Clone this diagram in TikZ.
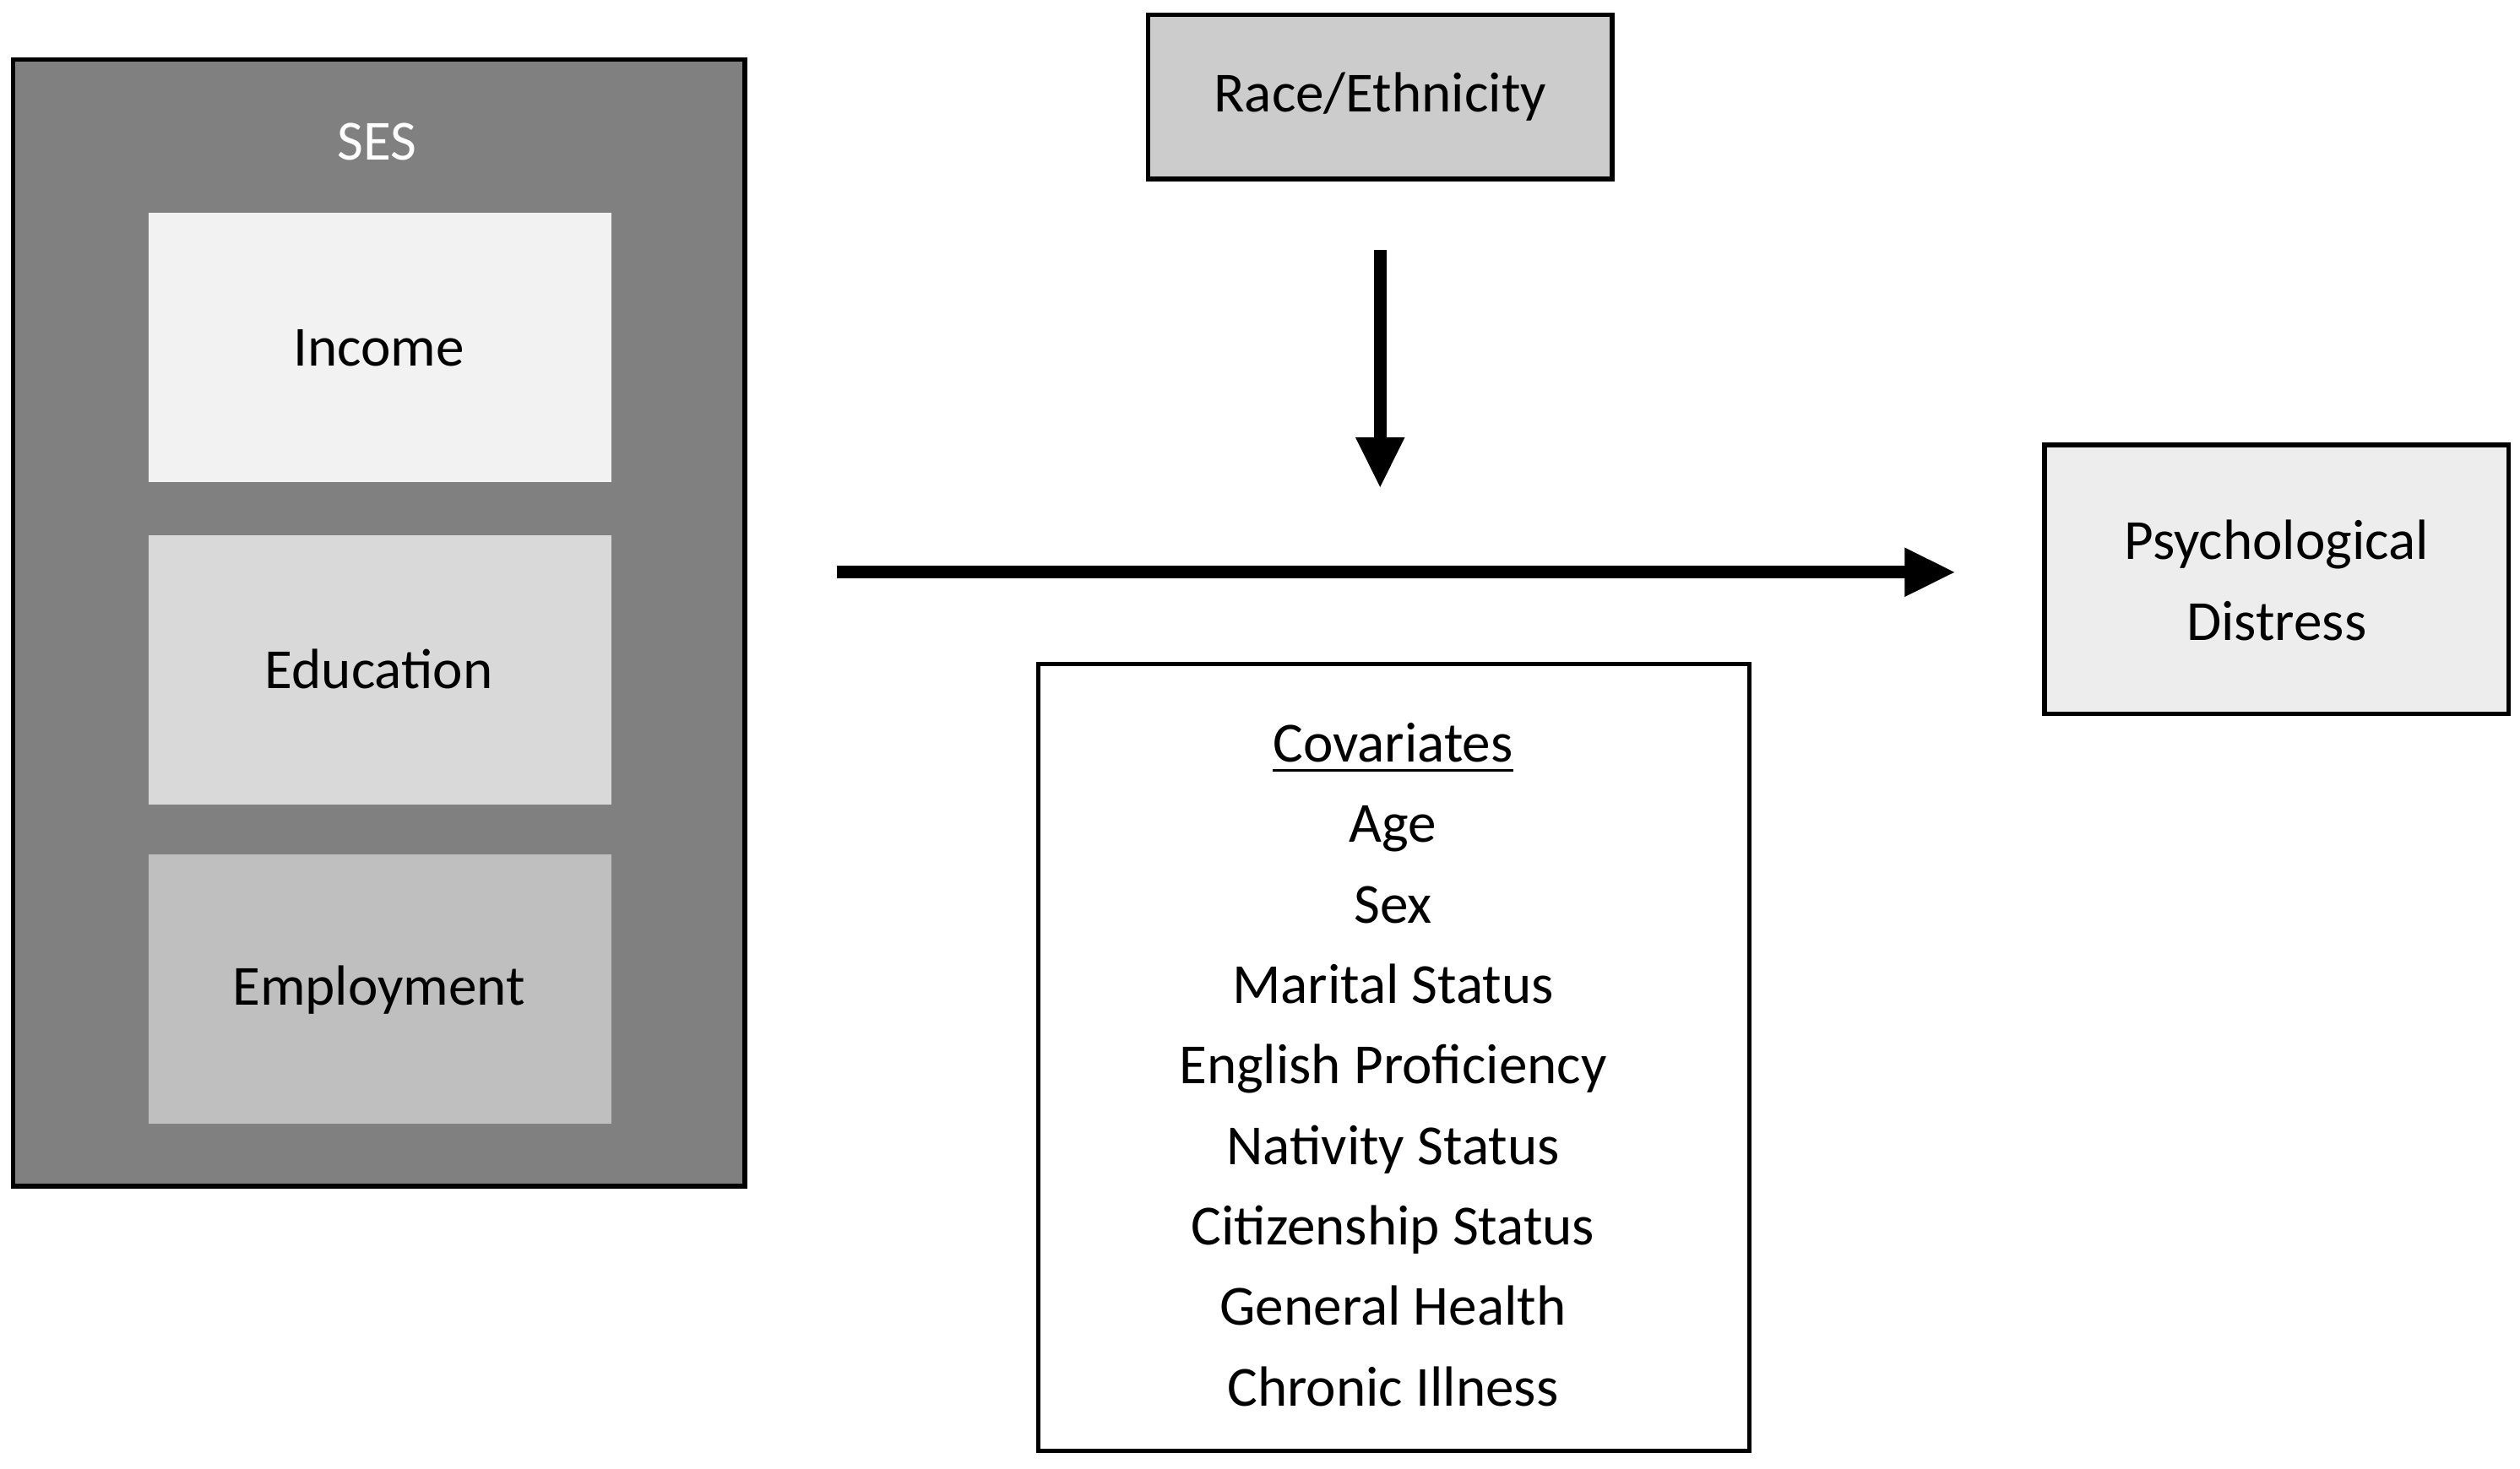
\documentclass[tikz,border=0pt]{standalone}
\usepackage{fontspec}
\setmainfont{Carlito}
\usetikzlibrary{arrows.meta}
\begin{document}
\begin{tikzpicture}[x=0.01cm,y=-0.01cm,
  box/.style={draw=black,line width=0.8pt},
  lbl/.style={font=\fontsize{10}{14.2}\selectfont,align=center},
  arr/.style={line width=2.2pt,-{Triangle[length=9pt,width=8pt]}}]
\useasboundingbox (0,0) rectangle (1563,911);
\filldraw[box,fill=black!50] (8,37) rectangle (462,736);
\node[lbl,text=white] (ses) at (234,88) {SES};
\filldraw[draw=none,fill=black!5] (92,132) rectangle (379,299);
\node[lbl] (inc) at (235,216) {Income};
\filldraw[draw=none,fill=black!15] (92,332) rectangle (379,499);
\node[lbl] (edu) at (235,415) {Education};
\filldraw[draw=none,fill=black!25] (92,530) rectangle (379,697);
\node[lbl] (emp) at (235,614) {Employment};
\filldraw[box,fill=black!20] (712,9) rectangle (1000,111);
\node[lbl] (race) at (856,60) {Race/Ethnicity};
\filldraw[box,fill=black!7] (1268,276) rectangle (1556,443);
\node[lbl] (psy) at (1412,360) {Psychological\\Distress};
\draw[box] (644,412) rectangle (1085,900);
\node[lbl,anchor=north] (cov) at (864,436) {\underline{Covariates}\\Age\\Sex\\Marital Status\\English Proficiency\\Nativity Status\\Citizenship Status\\General Health\\Chronic Illness};
\coordinate (a1) at (856,155); \coordinate (a2) at (856,303);
\coordinate (b1) at (519,355); \coordinate (b2) at (1213,355);
\draw[arr] (a1) -- (a2);
\draw[arr] (b1) -- (b2);
\end{tikzpicture}
\end{document}
